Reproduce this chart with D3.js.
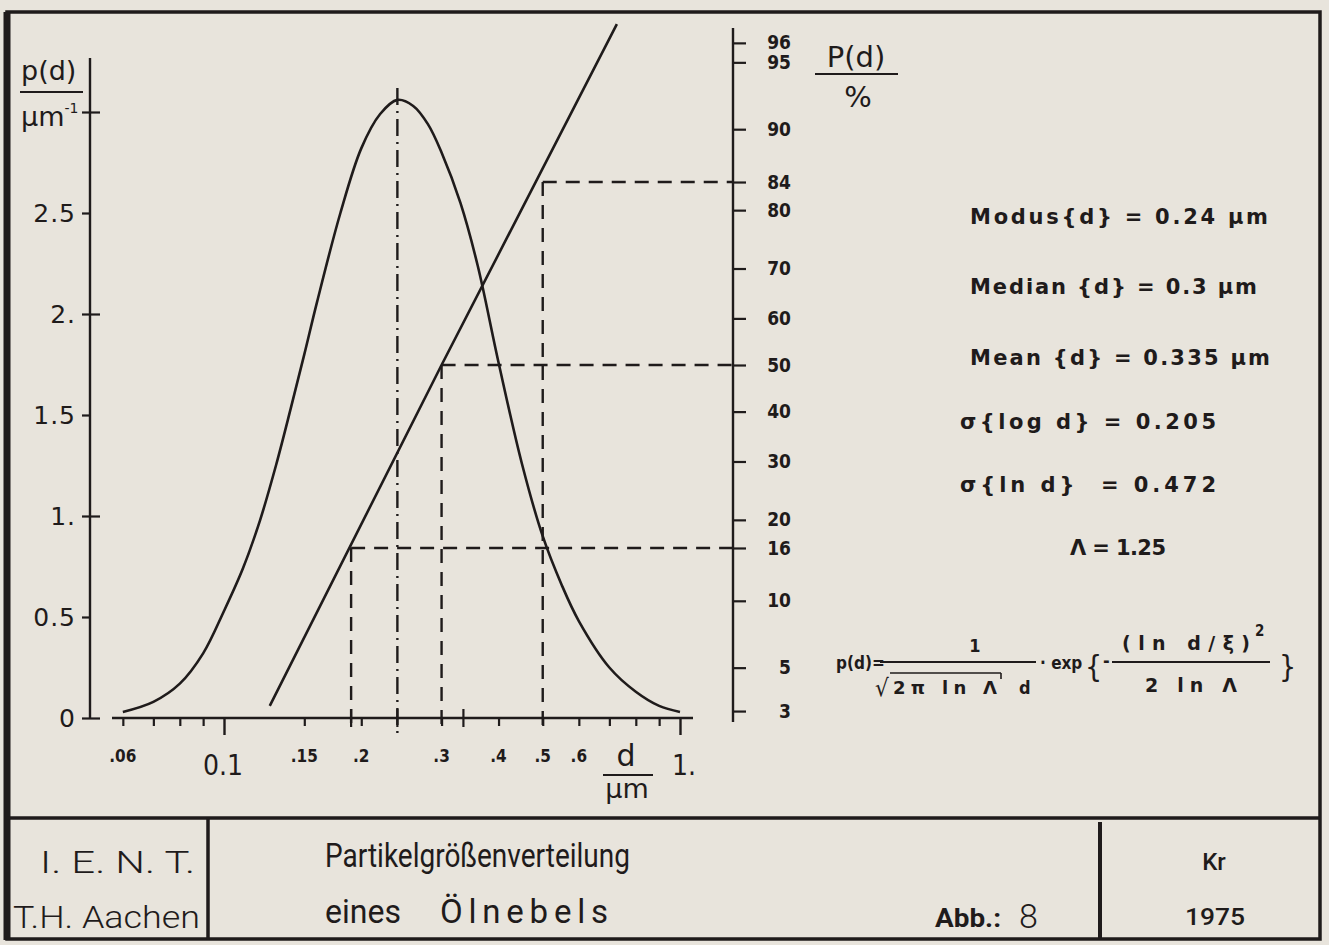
<!DOCTYPE html>
<html><head><meta charset="utf-8">
<script src="https://cdn.jsdelivr.net/npm/d3@7"></script>
<style>
body{margin:0;background:#e8e4dc}
svg{display:block}
</style></head>
<body>
<svg id="chart" width="1329" height="945"></svg>
<script>
// ---------------- data ----------------
const diameters = [0.06,0.07,0.08,0.09,0.10,0.11,0.12,0.13,0.14,0.15,0.16,0.18,0.20,0.22,0.24,0.26,0.28,0.30,0.33,0.36,0.40,0.45,0.50,0.55,0.60,0.70,0.80,0.90,1.00];
const density   = [0.03,0.08,0.17,0.32,0.53,0.74,0.98,1.25,1.53,1.80,2.06,2.50,2.82,2.99,3.06,3.03,2.94,2.80,2.55,2.24,1.76,1.26,0.90,0.66,0.48,0.25,0.13,0.06,0.03];
const cumDiameters = [0.126, 0.30, 0.727];
const cumPercent   = [3.2, 50, 96.8];

const xMinorTicks = [0.06,0.07,0.08,0.09,0.15,0.2,0.3,0.4,0.5,0.6,0.7,0.8,0.9];
const xMajorTicks = [0.1, 1];
const xSmallLabelValues = [0.06,0.15,0.2,0.3,0.4,0.5,0.6];
const xSmallLabels = [".06",".15",".2",".3",".4",".5",".6"];
const xBigLabelValues = [0.1, 1];
const xBigLabels = ["0.1","1."];
const yTickValues = [0,0.5,1,1.5,2,2.5,3];
const yTickLabels = ["0","0.5","1.","1.5","2.","2.5",""];
const pctTicks = [3,5,10,16,20,30,40,50,60,70,80,84,90,95,96];

const modus = 0.24, median = 0.3, mean = 0.335, d16 = 0.19, d84 = 0.5;
const p16 = 16, p50 = 50, p84 = 84;

const statLines = ["Modus{d} = 0.24 µm","Median {d} = 0.3 µm","Mean {d} = 0.335 µm","σ{log d} = 0.205","σ{ln d}  = 0.472","Λ = 1.25"];

// ---------------- helpers ----------------
function probit(p){
  const a=[-3.969683028665376e+01,2.209460984245205e+02,-2.759285104469687e+02,1.383577518672690e+02,-3.066479806614716e+01,2.506628277459239e+00];
  const b=[-5.447609879822406e+01,1.615858368580409e+02,-1.556989798598866e+02,6.680131188771972e+01,-1.328068155288572e+01];
  const c=[-7.784894002430293e-03,-3.223964580411365e-01,-2.400758277161838e+00,-2.549732539343734e+00,4.374664141464968e+00,2.938163982698783e+00];
  const d=[7.784695709041462e-03,3.224671290700398e-01,2.445134137142996e+00,3.754408661907416e+00];
  const pl=0.02425, ph=1-pl; let q,r;
  if(p<pl){q=Math.sqrt(-2*Math.log(p));return (((((c[0]*q+c[1])*q+c[2])*q+c[3])*q+c[4])*q+c[5])/((((d[0]*q+d[1])*q+d[2])*q+d[3])*q+1);}
  if(p<=ph){q=p-0.5;r=q*q;return (((((a[0]*r+a[1])*r+a[2])*r+a[3])*r+a[4])*r+a[5])*q/(((((b[0]*r+b[1])*r+b[2])*r+b[3])*r+b[4])*r+1);}
  q=Math.sqrt(-2*Math.log(1-p));return -(((((c[0]*q+c[1])*q+c[2])*q+c[3])*q+c[4])*q+c[5])/((((d[0]*q+d[1])*q+d[2])*q+d[3])*q+1);
}

const INK = "#1f1b1b";
const svg = d3.select("#chart");

// scales
const x = d3.scaleLog().domain([0.1, 1]).range([224, 680]);
const y = d3.scaleLinear().domain([0, 3]).range([718, 112]);
const zScale = d3.scaleLinear().domain([-2, 2]).range([365 + 2*184, 365 - 2*184]);
const py = p => zScale(probit(p/100));

const leftX = 90, rightX = 733, baseY = y(0);

// ---------------- frame ----------------
svg.append("rect").attr("x",0).attr("y",0).attr("width",1329).attr("height",945).attr("fill","#e8e4dc");
const frame = svg.append("g").attr("stroke",INK).attr("fill","none");
frame.append("rect").attr("x",7).attr("y",12).attr("width",1313).attr("height",927).attr("stroke-width",3.5);
frame.append("line").attr("x1",7).attr("x2",7).attr("y1",12).attr("y2",940).attr("stroke-width",7);
frame.append("line").attr("x1",7).attr("x2",1320).attr("y1",818).attr("y2",818).attr("stroke-width",3.5);
frame.append("line").attr("x1",208).attr("x2",208).attr("y1",818).attr("y2",940).attr("stroke-width",3.5);
frame.append("line").attr("x1",1100).attr("x2",1100).attr("y1",822).attr("y2",940).attr("stroke-width",4);

// ---------------- left axis ----------------
const gL = svg.append("g").attr("transform",`translate(${leftX},0)`);
gL.call(d3.axisLeft(y).tickValues(yTickValues).tickSize(8).tickPadding(6)
  .tickFormat((v,i)=>yTickLabels[i]));
gL.select(".domain").remove();
gL.selectAll(".tick line").attr("stroke",INK).attr("stroke-width",2.2);
gL.selectAll(".tick text").attr("fill",INK).attr("font-family","DejaVu Sans, sans-serif")
  .attr("font-size",25).attr("letter-spacing",1);
gL.selectAll(".tick").filter(v=>Number.isInteger(v)).append("line")
  .attr("x1",0).attr("x2",10).attr("stroke",INK).attr("stroke-width",2.2);
svg.append("line").attr("x1",leftX).attr("x2",leftX).attr("y1",58).attr("y2",baseY)
  .attr("stroke",INK).attr("stroke-width",2.4);

// left axis title
svg.append("text").attr("x",21).attr("y",80).attr("font-family","DejaVu Sans, sans-serif")
  .attr("font-size",27).attr("fill",INK).text("p(d)");
svg.append("line").attr("x1",20).attr("x2",83).attr("y1",92).attr("y2",92).attr("stroke",INK).attr("stroke-width",2.2);
const mu = svg.append("text").attr("x",21).attr("y",126).attr("font-family","DejaVu Sans, sans-serif")
  .attr("font-size",27).attr("fill",INK);
mu.append("tspan").text("µm");
mu.append("tspan").attr("font-size",14).attr("dy",-13).text("-1");

// ---------------- bottom axis ----------------
svg.append("line").attr("x1",112).attr("x2",693).attr("y1",baseY).attr("y2",baseY).attr("stroke",INK).attr("stroke-width",2.4);
const gB = svg.append("g").attr("transform",`translate(0,${baseY})`);
gB.call(d3.axisBottom(x).tickValues(xMinorTicks).tickSize(8).tickFormat(""));
gB.select(".domain").remove();
gB.selectAll(".tick line").attr("stroke",INK).attr("stroke-width",2.2);
const gB2 = svg.append("g").attr("transform",`translate(0,${baseY})`);
gB2.call(d3.axisBottom(x).tickValues(xMajorTicks).tickSize(17).tickFormat(""));
gB2.select(".domain").remove();
gB2.selectAll(".tick line").attr("stroke",INK).attr("stroke-width",2.4);
svg.append("g").selectAll("line").data([d16, modus, mean]).join("line")
  .attr("x1",d=>x(d)).attr("x2",d=>x(d)).attr("y1",baseY-9).attr("y2",baseY+9)
  .attr("stroke",INK).attr("stroke-width",2.2);

svg.append("g").selectAll("text").data(xSmallLabelValues).join("text")
  .attr("x",d=>x(d)).attr("y",762).attr("text-anchor","middle")
  .attr("font-family","DejaVu Sans Condensed, DejaVu Sans, sans-serif").attr("font-weight","bold")
  .attr("font-size",17).attr("fill",INK).text((d,i)=>xSmallLabels[i]);
svg.append("g").selectAll("text").data(xBigLabelValues).join("text")
  .attr("x",(d,i)=>x(d)+(i===0?-1:4)).attr("y",775).attr("text-anchor","middle")
  .attr("font-family","DejaVu Sans Condensed, DejaVu Sans, sans-serif")
  .attr("font-size",28).attr("fill",INK).text((d,i)=>xBigLabels[i]);
svg.append("text").attr("x",626).attr("y",766).attr("text-anchor","middle")
  .attr("font-family","DejaVu Sans, sans-serif").attr("font-size",30).attr("fill",INK).text("d");
svg.append("line").attr("x1",603).attr("x2",653).attr("y1",775).attr("y2",775).attr("stroke",INK).attr("stroke-width",2.2);
svg.append("text").attr("x",627).attr("y",798).attr("text-anchor","middle")
  .attr("font-family","DejaVu Sans, sans-serif").attr("font-size",27).attr("fill",INK).text("µm");

// ---------------- right (probability) axis ----------------
const gR = svg.append("g").attr("transform",`translate(${rightX},0)`);
gR.call(d3.axisRight(zScale).tickValues(pctTicks.map(p=>probit(p/100))).tickSize(13)
  .tickFormat((v,i)=>pctTicks[i]));
gR.select(".domain").remove();
gR.selectAll(".tick line").attr("stroke",INK).attr("stroke-width",2.2);
gR.selectAll(".tick text").attr("x",58).attr("text-anchor","end").attr("fill",INK)
  .attr("font-family","DejaVu Sans Condensed, DejaVu Sans, sans-serif").attr("font-weight","bold").attr("font-size",19);
svg.append("line").attr("x1",rightX).attr("x2",rightX).attr("y1",28).attr("y2",722)
  .attr("stroke",INK).attr("stroke-width",2.4);
svg.append("text").attr("x",856).attr("y",67).attr("text-anchor","middle")
  .attr("font-family","DejaVu Sans, sans-serif").attr("font-size",29).attr("fill",INK).text("P(d)");
svg.append("line").attr("x1",815).attr("x2",898).attr("y1",74).attr("y2",74).attr("stroke",INK).attr("stroke-width",2.2);
svg.append("text").attr("x",858).attr("y",107).attr("text-anchor","middle")
  .attr("font-family","DejaVu Sans, sans-serif").attr("font-size",29).attr("fill",INK).text("%");

// ---------------- reference lines ----------------
const dash = "14,9";
const ref = svg.append("g").attr("stroke",INK).attr("stroke-width",2.4).attr("fill","none");
[[d16,p16],[median,p50],[d84,p84]].forEach(([d,p])=>{
  ref.append("line").attr("x1",x(d)).attr("x2",rightX).attr("y1",py(p)).attr("y2",py(p)).attr("stroke-dasharray",dash);
  ref.append("line").attr("x1",x(d)).attr("x2",x(d)).attr("y1",py(p)).attr("y2",baseY+14).attr("stroke-dasharray",dash);
});
ref.append("line").attr("x1",x(modus)).attr("x2",x(modus)).attr("y1",y(3.06)-12).attr("y2",baseY+16)
  .attr("stroke-dasharray","17,6,2,6");

// ---------------- curves ----------------
const densityLine = d3.line().x((d,i)=>x(diameters[i])).y((d,i)=>y(density[i])).curve(d3.curveCatmullRom.alpha(0.5));
svg.append("path").attr("d",densityLine(density)).attr("fill","none").attr("stroke",INK).attr("stroke-width",2.6);
const cumLine = d3.line().x((d,i)=>x(cumDiameters[i])).y((d,i)=>py(cumPercent[i]));
svg.append("path").attr("d",cumLine(cumPercent)).attr("fill","none").attr("stroke",INK).attr("stroke-width",2.6);

// ---------------- statistics text ----------------
const statPos = [[970,224,298],[970,294,287],[970,365,300],[960,429,256],[960,492,256],[1070,555,96]];
svg.append("g").selectAll("text").data(statLines).join("text")
  .attr("x",(d,i)=>statPos[i][0]).attr("y",(d,i)=>statPos[i][1])
  .attr("textLength",(d,i)=>statPos[i][2]).attr("lengthAdjust","spacing")
  .attr("font-family","DejaVu Sans, sans-serif").attr("font-weight","bold")
  .attr("font-size",21).attr("fill",INK).style("white-space","pre").text(d=>d);

// ---------------- formula ----------------
const F = svg.append("g").attr("font-family","DejaVu Sans Condensed, DejaVu Sans, sans-serif")
  .attr("font-weight","bold").attr("fill",INK).attr("font-size",18);
F.append("text").attr("x",836).attr("y",669).attr("font-size",17).text("p(d)=");
F.append("line").attr("x1",880).attr("x2",1036).attr("y1",662).attr("y2",662).attr("stroke",INK).attr("stroke-width",1.8);
F.append("text").attr("x",975).attr("y",652).attr("text-anchor","middle").text("1");
F.append("text").attr("x",875).attr("y",696).attr("font-size",24).attr("font-weight","normal").text("√");
F.append("line").attr("x1",890).attr("x2",1001).attr("y1",673).attr("y2",673).attr("stroke",INK).attr("stroke-width",1.6);
F.append("line").attr("x1",1001).attr("x2",1001).attr("y1",673).attr("y2",679).attr("stroke",INK).attr("stroke-width",1.6);
F.append("text").attr("x",893).attr("y",694).attr("font-family","DejaVu Sans, sans-serif").attr("font-size",18)
  .attr("textLength",104).attr("lengthAdjust","spacing").text("2π ln Λ");
F.append("text").attr("x",1019).attr("y",694).text("d");
F.append("text").attr("x",1040).attr("y",669).attr("font-size",17).text("· exp");
F.append("text").attr("x",1085).attr("y",677).attr("font-size",30).attr("font-weight","normal").text("{");
F.append("text").attr("x",1103).attr("y",667).text("-");
F.append("line").attr("x1",1112).attr("x2",1270).attr("y1",662).attr("y2",662).attr("stroke",INK).attr("stroke-width",1.8);
F.append("text").attr("x",1122).attr("y",650).attr("font-family","DejaVu Sans, sans-serif").attr("font-size",19)
  .attr("textLength",128).attr("lengthAdjust","spacing").text("(ln  d/ξ)");
F.append("text").attr("x",1255).attr("y",636).attr("font-size",15).text("2");
F.append("text").attr("x",1191).attr("y",692).attr("text-anchor","middle").attr("font-family","DejaVu Sans, sans-serif").attr("font-size",19)
  .attr("textLength",92).attr("lengthAdjust","spacing").text("2 ln Λ");
F.append("text").attr("x",1279).attr("y",677).attr("font-size",30).attr("font-weight","normal").text("}");

// ---------------- footer ----------------
const ft = svg.append("g").attr("font-family","Roboto, DejaVu Sans Condensed, sans-serif")
  .attr("font-weight",400).attr("fill",INK);
ft.append("text").attr("x",40).attr("y",873).attr("font-size",31).attr("font-weight",300).attr("textLength",155).attr("lengthAdjust","spacingAndGlyphs").text("I. E. N. T.");
ft.append("text").attr("x",13).attr("y",928).attr("font-size",31).attr("font-weight",300).attr("textLength",187).attr("lengthAdjust","spacingAndGlyphs").text("T.H. Aachen");
ft.append("text").attr("x",325).attr("y",867).attr("font-size",33).attr("textLength",305).attr("lengthAdjust","spacingAndGlyphs").text("Partikelgrößenverteilung");
ft.append("text").attr("x",325).attr("y",923).attr("font-size",33).attr("textLength",76).attr("lengthAdjust","spacingAndGlyphs").text("eines");
ft.append("text").attr("x",440).attr("y",923).attr("font-size",33).attr("textLength",168).attr("lengthAdjust","spacing").text("Ölnebels");
ft.append("text").attr("x",935).attr("y",927).attr("font-size",26).attr("font-weight",700).attr("textLength",66).attr("lengthAdjust","spacingAndGlyphs").text("Abb.:");
ft.append("text").attr("x",1019).attr("y",928).attr("font-size",34).attr("font-weight",300).text("8");
ft.append("text").attr("x",1214).attr("y",870).attr("text-anchor","middle").attr("font-size",24).attr("font-weight",500).text("Kr");
ft.append("text").attr("x",1215).attr("y",925).attr("text-anchor","middle").attr("font-size",23).attr("font-weight",500).attr("textLength",60).attr("lengthAdjust","spacingAndGlyphs").text("1975");
</script>
</body></html>
